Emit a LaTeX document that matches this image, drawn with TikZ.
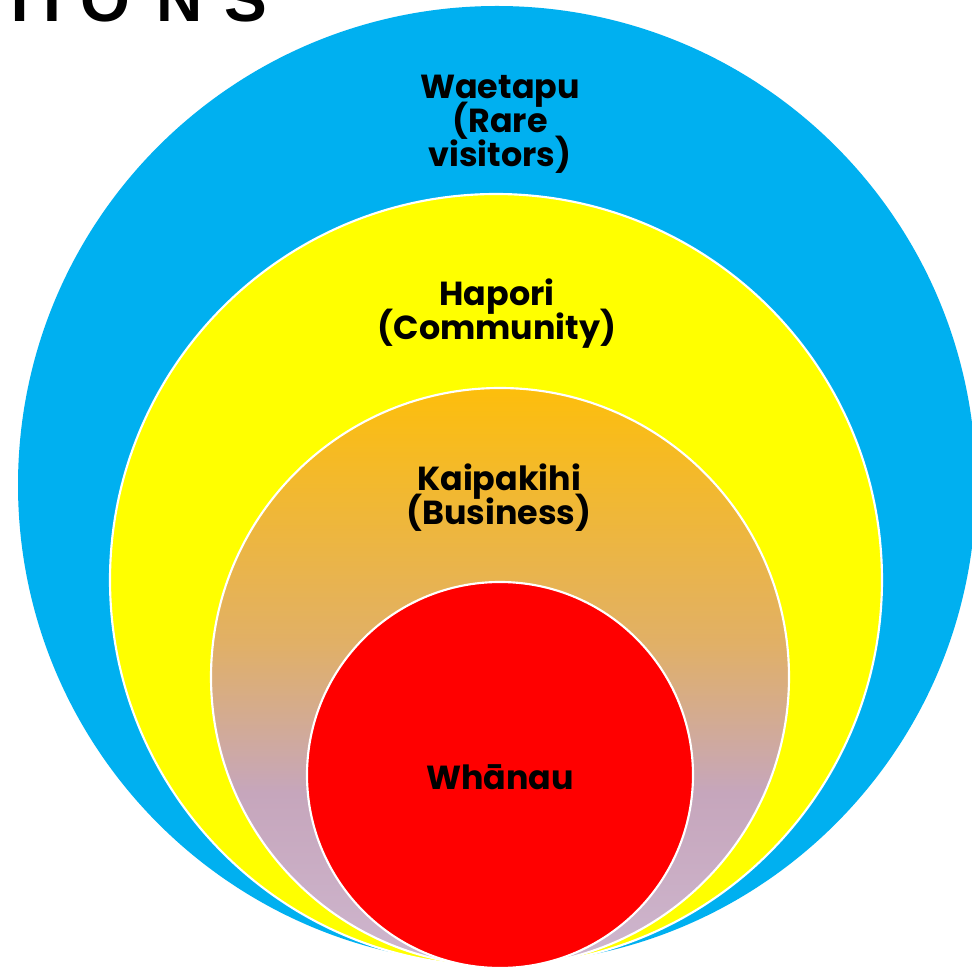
\documentclass[tikz,border=0pt]{standalone}
\usepackage{fontspec}
\setmainfont{Poppins}
\newfontfamily\titlefont{Liberation Sans}
\usetikzlibrary{backgrounds}
\definecolor{ringblue}{RGB}{0,176,240}
\definecolor{ringyellow}{RGB}{255,255,0}
\definecolor{bizorange}{RGB}{253,190,12}
\definecolor{bizmid}{RGB}{225,176,102}
\definecolor{bizlav}{RGB}{198,166,188}
\definecolor{bizlilac}{RGB}{206,182,206}
\definecolor{ringred}{RGB}{255,0,0}
\pgfdeclareverticalshading{bizfade}{100bp}{color(0bp)=(bizlilac); color(25bp)=(bizlilac);
  color(40bp)=(bizlav); color(53bp)=(bizmid); color(75bp)=(bizorange); color(100bp)=(bizorange)}
\newcommand\tightlines{\lineskiplimit=-30pt\relax}
\tikzset{
  ring/.style={draw=white,line width=1.6pt},
  ringlabel/.style={align=center,inner sep=0pt,
    font=\fontsize{25}{25.5}\selectfont\bfseries\tightlines},
  titleletter/.style={anchor=base,inner sep=0pt,
    font=\titlefont\bfseries\fontsize{48}{48}\selectfont}
}

\begin{document}
\begin{tikzpicture}[x=0.75pt,y=0.75pt]
\useasboundingbox (0,0) rectangle (972,-969);
\clip (0,0) rectangle (972,-969);
\fill [white] (0,0) rectangle (972,-969);
% heading, cut off by the top edge
\foreach \ch/\xx [count=\i] in {T/20,I/52,O/105,N/180,S/246}
  \node [titleletter] (title\i) at (\xx,-22) {\ch};
% rings
\fill [ringblue] (497,-485) circle (479);
\draw [ring,fill=ringyellow] (496,-580) circle (386);
\draw [ring,shading=bizfade] (500,-677) circle (289);
\draw [ring,fill=ringred] (500,-775) circle (193);
% labels
\node [ringlabel] (waetapu) at (500,-124) {Waetapu\\(Rare\\visitors)};
\node [ringlabel] (hapori) at (497,-314) {Hapori\\(Community)};
\node [ringlabel] (kaipakihi) at (499,-498) {Kaipakihi\\(Business)};
\node [ringlabel] (whanau) at (500,-777) {Whānau};
\end{tikzpicture}
\end{document}
